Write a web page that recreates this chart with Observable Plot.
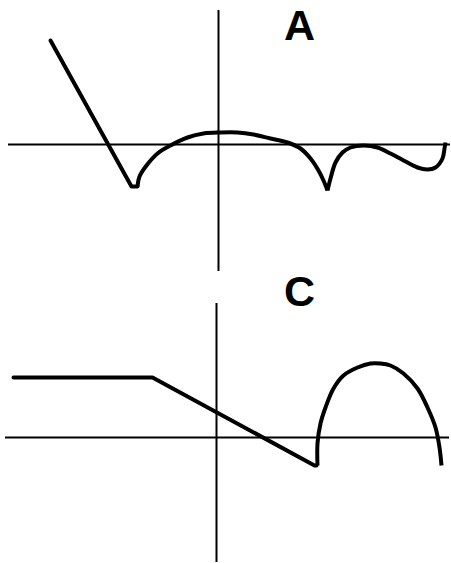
<!DOCTYPE html>
<html>
<head>
<meta charset="utf-8">
<script src="https://cdn.jsdelivr.net/npm/d3@7"></script>
<script src="https://cdn.jsdelivr.net/npm/@observablehq/plot@0.6"></script>
<style>
  html, body { margin: 0; padding: 0; background: #fff; }
  #chart svg { display: block; }
</style>
</head>
<body>
<div id="chart"></div>
<script>
// Panel labels
const panelLabels = ["A", "C"];

// Panel A: straight descending segment (x, y)
const aLineX = [-16.8, -8.7, -8.1];
const aLineY = [10.4, -4.2, -4.2];
// Panel A: first arc (between the two cusps)
const aArc1X = [-8.1, -7.9, -7.2, -6.1, -4.8, -3.1, -1.5, 0.2, 1.9, 3.5, 5.2, 6.9, 8.2, 9.2, 10.0, 10.5, 10.9];
const aArc1Y = [-4.2, -3.2, -2.1, -0.9, -0.1, 0.7, 1.1, 1.2, 1.2, 1.0, 0.6, 0.2, -0.4, -1.4, -2.6, -3.6, -4.6];
// Panel A: trailing wave
const aArc2X = [10.9, 11.2, 11.7, 12.4, 13.2, 14.5, 15.9, 17.2, 18.5, 19.9, 20.9, 21.7, 22.4, 22.6, 22.7];
const aArc2Y = [-4.6, -3.4, -1.8, -0.8, -0.3, -0.1, -0.3, -0.9, -1.6, -2.3, -2.5, -2.3, -1.4, -0.4, 0.2];
// Panel A axis extents
const aAxisX = [-21.0, 23.2];
const aAxisY = [-12.7, 13.4];
const aLabelPos = [8.1, 11.85];

// Panel C: plateau then descending segment
const cLineX = [-20.3, -6.4, 9.8, 10.0];
const cLineY = [6.0, 6.0, -2.8, -2.8];
// Panel C: arch
const cArcX = [10.1, 10.1, 10.4, 10.9, 11.7, 12.7, 14.1, 15.4, 16.4, 17.4, 18.7, 20.1, 21.1, 21.9, 22.3, 22.5];
const cArcY = [-2.8, -0.6, 1.4, 3.0, 4.9, 6.2, 7.0, 7.4, 7.4, 7.2, 6.4, 4.9, 3.0, 1.0, -1.0, -2.8];
// Panel C axis extents
const cAxisX = [-21.1, 23.3];
const cAxisY = [-12.5, 13.4];
const cLabelPos = [8.3, 14.5];

// Where each panel's origin sits in the shared frame
const panelOrigin = {A: [0, 0], C: [-0.2, -29.3]};
const frameX = [-21.8, 23.3];
const frameY = [-41.9, 14.4];

function panelMarks(key, {axisX, axisY, straight, arcs, label, labelPos}) {
  const [ox, oy] = panelOrigin[key];
  const pts = (xs, ys) => xs.map((x, i) => ({x: x + ox, y: ys[i] + oy}));
  return [
    Plot.ruleY([oy], {x1: axisX[0] + ox, x2: axisX[1] + ox, stroke: "#000", strokeWidth: 2}),
    Plot.ruleX([ox], {y1: axisY[0] + oy, y2: axisY[1] + oy, stroke: "#000", strokeWidth: 2}),
    Plot.line(pts(...straight), {x: "x", y: "y", stroke: "#000", strokeWidth: 4, strokeLinecap: "round", strokeLinejoin: "round", curve: "linear"}),
    ...arcs.map(a => Plot.line(pts(...a), {x: "x", y: "y", stroke: "#000", strokeWidth: 4, strokeLinecap: "butt", strokeLinejoin: "round", curve: "catmull-rom"})),
    Plot.text([{x: labelPos[0] + ox, y: labelPos[1] + oy, t: label}], {
      x: "x", y: "y", text: "t", fill: "#000", fontSize: 43, fontWeight: "bold",
      fontFamily: "Liberation Sans, Arial, sans-serif", textAnchor: "middle", lineAnchor: "middle"
    })
  ];
}

const chart = Plot.plot({
  width: 451, height: 563,
  margin: 0,
  x: {domain: frameX, range: [0, 451], axis: null},
  y: {domain: frameY, range: [563, 0], axis: null},
  style: {background: "#fff"},
  marks: [
    ...panelMarks("A", {
      axisX: aAxisX, axisY: aAxisY,
      straight: [aLineX, aLineY],
      arcs: [[aArc1X, aArc1Y], [aArc2X, aArc2Y]],
      label: panelLabels[0], labelPos: aLabelPos
    }),
    ...panelMarks("C", {
      axisX: cAxisX, axisY: cAxisY,
      straight: [cLineX, cLineY],
      arcs: [[cArcX, cArcY]],
      label: panelLabels[1], labelPos: cLabelPos
    })
  ]
});
document.getElementById("chart").appendChild(chart);
</script>
</body>
</html>
